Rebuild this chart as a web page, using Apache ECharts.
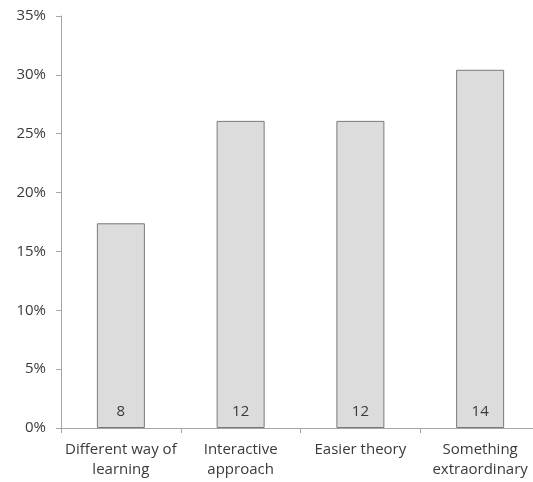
<!DOCTYPE html>
<html>
<head>
<meta charset="utf-8">
<script src="https://cdn.jsdelivr.net/npm/echarts@6/dist/echarts.min.js"></script>
<style>
  html, body { margin: 0; padding: 0; background: #fff; }
  #chart { width: 533px; height: 482px; }
</style>
</head>
<body>
<div id="chart"></div>
<script>
var categories = ['Different way of\nlearning', 'Interactive\napproach', 'Easier theory', 'Something\nextraordinary'];
var percents = [17.39, 26.09, 26.09, 30.43];
var counts = [8, 12, 12, 14];
var yTicks = [0, 5, 10, 15, 20, 25, 30, 35];

var textColor = '#3a3a3a';
var axisColor = '#a6a6a6';
var font = 'Open Sans';

var myChart = echarts.init(document.getElementById('chart'));
myChart.setOption({
    animation: false,
    grid: { left: 61, width: 479, top: 16, bottom: 54, outerBoundsMode: 'none', containLabel: false },
    xAxis: {
        type: 'category',
        data: categories,
        axisLine: { lineStyle: { color: axisColor } },
        axisTick: { show: true, length: 5, lineStyle: { color: axisColor } },
        axisLabel: { color: textColor, fontFamily: font, fontSize: 15, lineHeight: 20, margin: 12, interval: 0 }
    },
    yAxis: {
        type: 'value',
        min: yTicks[0],
        max: yTicks[yTicks.length - 1],
        interval: 5,
        splitLine: { show: false },
        axisLine: { show: true, lineStyle: { color: axisColor } },
        axisTick: { show: true, length: 5, lineStyle: { color: axisColor } },
        axisLabel: { color: textColor, fontFamily: font, fontSize: 15, margin: 15, formatter: '{value}%' }
    },
    series: [{
        type: 'bar',
        barWidth: 48,
        data: percents,
        itemStyle: { color: '#dcdcdc', borderColor: '#7a7a7a', borderWidth: 1 },
        label: {
            show: true,
            position: 'insideBottom',
            distance: 9,
            color: textColor,
            fontFamily: font,
            fontSize: 15,
            formatter: function (p) { return counts[p.dataIndex]; }
        }
    }]
});
</script>
</body>
</html>
